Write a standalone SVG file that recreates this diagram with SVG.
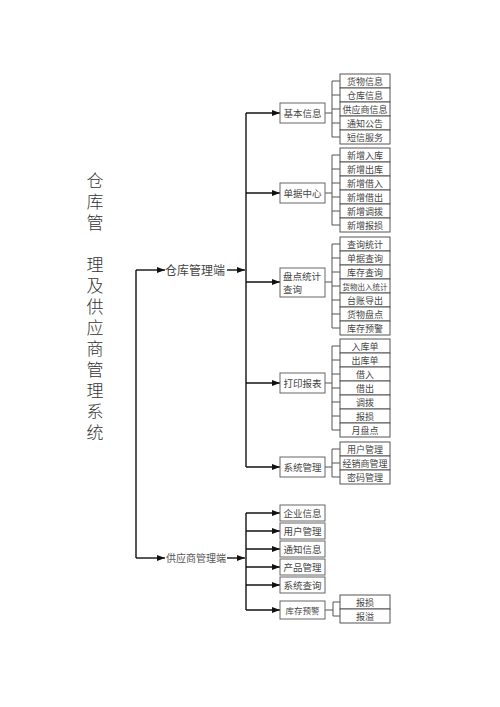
<svg xmlns="http://www.w3.org/2000/svg" width="500" height="707" viewBox="0 0 500 707">
<defs>
<marker id="ah" markerWidth="8" markerHeight="6" refX="8" refY="3" orient="auto" markerUnits="userSpaceOnUse">
<path d="M0,0 L8,3 L0,6 Z" fill="#111"/>
</marker>
<style>
text{font-family:"Noto Sans CJK SC","Liberation Serif",serif;fill:#444}
.title{font-size:17px;fill:#333;font-weight:300;writing-mode:vertical-rl;text-orientation:upright;letter-spacing:4px}
.lv1{font-size:12px;fill:#444}
.lv1s{font-size:10px;fill:#555}
.box rect{fill:#fff;stroke:#666;stroke-width:1}
.box text{font-size:9.5px;text-anchor:middle;dominant-baseline:central}
.leaf rect{fill:#fff;stroke:#555;stroke-width:1}
.leaf text{font-size:9px;text-anchor:middle;dominant-baseline:central}
.bus{stroke:#111;stroke-width:1.4;fill:none}
.br{stroke:#555;stroke-width:1;fill:none}
.arr{stroke:#111;stroke-width:1.4;fill:none;marker-end:url(#ah)}
</style>
</defs>
<rect width="500" height="707" fill="#fff"/>

<g id="title">
<text class="title" x="95" y="172">仓库管</text>
<text class="title" x="95" y="256">理及供应商管理系统</text>
</g>

<g id="connectors">
<path class="bus" d="M136,558 V270"/>
<path class="arr" d="M136,270 H165"/>
<path class="arr" d="M136,558 H165"/>
<path class="arr" d="M227,270 H245"/>
<path class="arr" d="M227,558 H245"/>
<path class="bus" d="M246,113 V467"/>
<path class="arr" d="M246,113 H280"/>
<path class="arr" d="M246,193 H280"/>
<path class="arr" d="M246,282 H280"/>
<path class="arr" d="M246,383 H280"/>
<path class="arr" d="M246,467 H280"/>
<path class="bus" d="M246,513 V610"/>
<path class="arr" d="M246,513 H280"/>
<path class="arr" d="M246,531 H280"/>
<path class="arr" d="M246,549 H280"/>
<path class="arr" d="M246,567 H280"/>
<path class="arr" d="M246,585 H280"/>
<path class="arr" d="M246,610 H280"/>
<path class="br" d="M325,113 H332 M332,81 V137 M332,81 H340 M332,95 H340 M332,109 H340 M332,123 H340 M332,137 H340"/>
<path class="br" d="M325,193 H332 M332,155 V225 M332,155 H340 M332,169 H340 M332,183 H340 M332,197 H340 M332,211 H340 M332,225 H340"/>
<path class="br" d="M325,282 H332 M332,244 V328 M332,244 H340 M332,258 H340 M332,272 H340 M332,286 H340 M332,300 H340 M332,314 H340 M332,328 H340"/>
<path class="br" d="M325,383 H332 M332,346 V430 M332,346 H340 M332,360 H340 M332,374 H340 M332,388 H340 M332,402 H340 M332,416 H340 M332,430 H340"/>
<path class="br" d="M325,467 H332 M332,449 V477 M332,449 H340 M332,463 H340 M332,477 H340"/>
<path class="br" d="M325,610 H333 M333,602 V616 M333,602 H340 M333,616 H340"/>
</g>

<g id="n-root-warehouse"><text class="lv1" x="165" y="274.5">仓库管理端</text></g>
<g id="n-root-supplier"><text class="lv1s" x="166" y="561.5">供应商管理端</text></g>

<g id="n-basic" class="box"><rect x="280" y="103" width="45" height="20"/><text x="302.5" y="113">基本信息</text></g>
<g id="n-doc" class="box"><rect x="280" y="183" width="45" height="20"/><text x="302.5" y="193">单据中心</text></g>
<g id="n-stat" class="box"><rect x="280" y="268" width="45" height="29"/><text x="283" y="276" style="text-anchor:start">盘点统计</text><text x="283" y="289" style="text-anchor:start">查询</text></g>
<g id="n-print" class="box"><rect x="280" y="373" width="45" height="20"/><text x="302.5" y="383">打印报表</text></g>
<g id="n-sys" class="box"><rect x="280" y="457" width="45" height="20"/><text x="302.5" y="467">系统管理</text></g>

<g id="n-s1" class="box"><rect x="280" y="505" width="45" height="16"/><text x="302.5" y="513">企业信息</text></g>
<g id="n-s2" class="box"><rect x="280" y="523" width="45" height="16"/><text x="302.5" y="531">用户管理</text></g>
<g id="n-s3" class="box"><rect x="280" y="541" width="45" height="16"/><text x="302.5" y="549">通知信息</text></g>
<g id="n-s4" class="box"><rect x="280" y="559" width="45" height="16"/><text x="302.5" y="567">产品管理</text></g>
<g id="n-s5" class="box"><rect x="280" y="577" width="45" height="16"/><text x="302.5" y="585">系统查询</text></g>
<g id="n-s6" class="box"><rect x="280" y="601" width="45" height="18"/><text x="302.5" y="610" style="font-size:8.5px">库存预警</text></g>

<g id="leaves-basic" class="leaf">
<rect x="340" y="74" width="50" height="14"/><text x="365" y="81">货物信息</text>
<rect x="340" y="88" width="50" height="14"/><text x="365" y="95">仓库信息</text>
<rect x="340" y="102" width="50" height="14"/><text x="365" y="109">供应商信息</text>
<rect x="340" y="116" width="50" height="14"/><text x="365" y="123">通知公告</text>
<rect x="340" y="130" width="50" height="14"/><text x="365" y="137">短信服务</text>
</g>
<g id="leaves-doc" class="leaf">
<rect x="340" y="148" width="50" height="14"/><text x="365" y="155">新增入库</text>
<rect x="340" y="162" width="50" height="14"/><text x="365" y="169">新增出库</text>
<rect x="340" y="176" width="50" height="14"/><text x="365" y="183">新增借入</text>
<rect x="340" y="190" width="50" height="14"/><text x="365" y="197">新增借出</text>
<rect x="340" y="204" width="50" height="14"/><text x="365" y="211">新增调拨</text>
<rect x="340" y="218" width="50" height="14"/><text x="365" y="225">新增报损</text>
</g>
<g id="leaves-stat" class="leaf">
<rect x="340" y="237" width="50" height="14"/><text x="365" y="244">查询统计</text>
<rect x="340" y="251" width="50" height="14"/><text x="365" y="258">单据查询</text>
<rect x="340" y="265" width="50" height="14"/><text x="365" y="272">库存查询</text>
<rect x="340" y="279" width="50" height="14"/><text x="365" y="286" style="font-size:7.5px">货物出入统计</text>
<rect x="340" y="293" width="50" height="14"/><text x="365" y="300">台账导出</text>
<rect x="340" y="307" width="50" height="14"/><text x="365" y="314">货物盘点</text>
<rect x="340" y="321" width="50" height="14"/><text x="365" y="328">库存预警</text>
</g>
<g id="leaves-print" class="leaf">
<rect x="340" y="339" width="50" height="14"/><text x="365" y="346">入库单</text>
<rect x="340" y="353" width="50" height="14"/><text x="365" y="360">出库单</text>
<rect x="340" y="367" width="50" height="14"/><text x="365" y="374">借入</text>
<rect x="340" y="381" width="50" height="14"/><text x="365" y="388">借出</text>
<rect x="340" y="395" width="50" height="14"/><text x="365" y="402">调拨</text>
<rect x="340" y="409" width="50" height="14"/><text x="365" y="416">报损</text>
<rect x="340" y="423" width="50" height="14"/><text x="365" y="430">月盘点</text>
</g>
<g id="leaves-sys" class="leaf">
<rect x="340" y="442" width="50" height="14"/><text x="365" y="449">用户管理</text>
<rect x="340" y="456" width="50" height="14"/><text x="365" y="463">经销商管理</text>
<rect x="340" y="470" width="50" height="14"/><text x="365" y="477">密码管理</text>
</g>
<g id="leaves-warn" class="leaf">
<rect x="340" y="595" width="50" height="14"/><text x="365" y="602">报损</text>
<rect x="340" y="609" width="50" height="14"/><text x="365" y="616">报溢</text>
</g>
</svg>
